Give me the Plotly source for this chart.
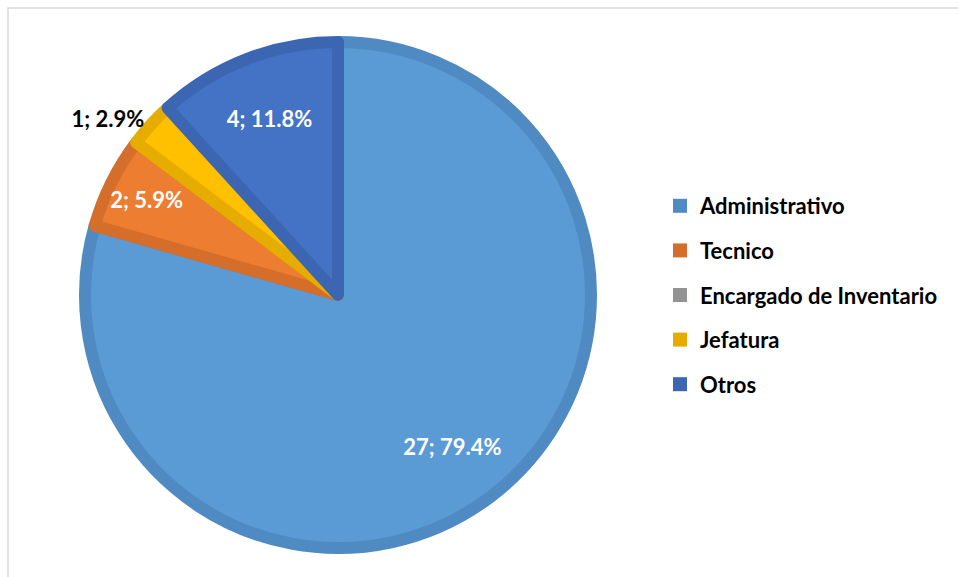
import plotly.graph_objects as go

categories = ["Administrativo", "Tecnico", "Encargado de Inventario", "Jefatura", "Otros"]
values = [27, 2, 0, 1, 4]
fill_colors = ["#5B9BD5", "#ED7D31", "#A5A5A5", "#FFC000", "#4472C4"]
edge_colors = ["#508AC2", "#D46E2A", "#939393", "#E6AC00", "#3C66B2"]
text_positions = ["inside", "inside", "none", "outside", "inside"]

W, H = 958, 577
ml, mt = 8, 8
pw, ph = W - ml, H - mt
stroke = 12
cx, cy, R = 338 - ml, 295 - mt, 259 - stroke / 2
domain = dict(x=[(cx - R) / pw, (cx + R) / pw], y=[(ph - cy - R) / ph, (ph - cy + R) / ph])
label_font = dict(family="Lato", size=22, weight="bold")

fig = go.Figure()
# visible pie
fig.add_trace(go.Pie(
    labels=categories, values=values, sort=False, direction="clockwise", rotation=0,
    marker=dict(colors=fill_colors,
                line=dict(color=edge_colors, width=[stroke if v > 0 else 0 for v in values])),
    textinfo="none", showlegend=False, hoverinfo="label+value+percent",
    domain=domain,
))
# transparent ring carrying the data labels
fig.add_trace(go.Pie(
    labels=categories, values=values, sort=False, direction="clockwise", rotation=0,
    hole=0.5,
    marker=dict(colors=["rgba(0,0,0,0)"] * len(values), line=dict(width=0)),
    texttemplate="%{value}; %{percent:.1%}",
    textposition=text_positions,
    insidetextorientation="horizontal",
    insidetextfont=dict(color="white", **label_font),
    outsidetextfont=dict(color="black", **label_font),
    showlegend=False, hoverinfo="skip",
    domain=domain,
))

for name, col in zip(categories, edge_colors):
    fig.add_trace(go.Scatter(
        x=[None], y=[None], mode="markers", name=name, legendgroup=name,
        marker=dict(symbol="square", size=14, color=col, line=dict(width=0)),
        showlegend=True, hoverinfo="skip",
    ))

fig.update_layout(
    width=W, height=H,
    margin=dict(l=ml, t=mt, r=0, b=0),
    paper_bgcolor="white", plot_bgcolor="white",
    xaxis=dict(visible=False), yaxis=dict(visible=False),
    uniformtext=dict(minsize=22, mode="show"),
    legend=dict(
        x=(660 - ml) / pw, xanchor="left",
        y=(ph - (295 - mt)) / ph, yanchor="middle",
        font=dict(family="Lato", size=22, color="black", weight="bold"),
        tracegroupgap=13, bgcolor="rgba(0,0,0,0)",
    ),
    shapes=[dict(type="rect", xref="paper", yref="paper", x0=0, x1=1.2, y0=-0.2, y1=1,
                 line=dict(color="#D9D9D9", width=1.5), fillcolor="rgba(0,0,0,0)", layer="below")],
)

fig.write_html("out.html")
